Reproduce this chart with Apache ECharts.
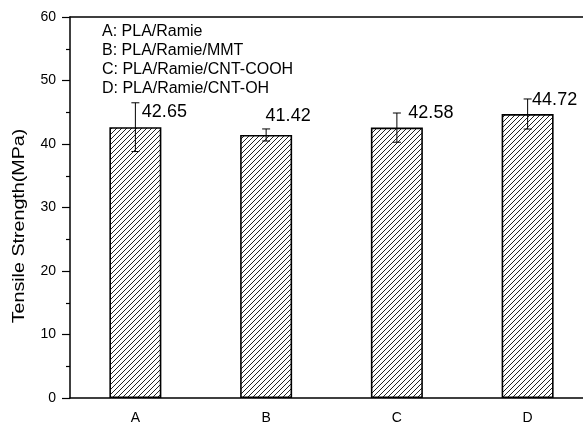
<!DOCTYPE html>
<html>
<head>
<meta charset="utf-8">
<script src="https://cdn.jsdelivr.net/npm/echarts@6/dist/echarts.min.js"></script>
<style>
  html, body { margin: 0; padding: 0; background: #fff; }
  #chart { width: 583px; height: 422px; }
</style>
</head>
<body>
<div id="chart"></div>
<script>
// Samples and their tensile strength (mean and standard deviation, MPa)
const categories = ['A', 'B', 'C', 'D'];
const strength = [42.65, 41.42, 42.58, 44.72];
const strengthError = [3.84, 0.95, 2.3, 2.37];
const sampleNames = [
  'A: PLA/Ramie',
  'B: PLA/Ramie/MMT',
  'C: PLA/Ramie/CNT-COOH',
  'D: PLA/Ramie/CNT-OH'
];
const yTitle = 'Tensile Strength(MPa)';
const yMin = 0, yMax = 60, yStep = 10;

const FONT = '"Liberation Sans", Arial, Helvetica, sans-serif';

// Value label nudges [dx, dy] so each number sits beside its error bar
const labelNudge = [[29, -1], [22, -5], [34, -1], [27, 0]];

// Diagonal hatch tile used as the bar fill
function hatchTile() {
  const c = document.createElement('canvas');
  c.width = 5; c.height = 5;
  const g = c.getContext('2d');
  g.fillStyle = '#fff';
  g.fillRect(0, 0, 5, 5);
  g.strokeStyle = '#222';
  g.lineWidth = 1;
  g.beginPath();
  g.moveTo(-1, 6); g.lineTo(6, -1);
  g.moveTo(-1, 1); g.lineTo(1, -1);
  g.moveTo(4, 6); g.lineTo(6, 4);
  g.stroke();
  return c;
}
const hatch = { image: hatchTile(), repeat: 'repeat' };

const chart = echarts.init(document.getElementById('chart'), null, { renderer: 'canvas' });

const black = '#000';
const tickStyle = { color: black, width: 1.2 };

const option = {
  animation: false,
  backgroundColor: '#fff',
  grid: { left: 70, top: 17, width: 523, height: 381, outerBoundsMode: 'none' },
  xAxis: [
    {
      type: 'category', data: categories, position: 'bottom',
      axisLine: { lineStyle: { color: black, width: 1.5 } },
      axisTick: { alignWithLabel: true, length: 7, lineStyle: tickStyle },
      axisLabel: { color: black, fontSize: 14, fontFamily: FONT, margin: 13 },
      splitLine: { show: false }
    },
    {
      type: 'category', data: categories, position: 'bottom',
      axisLine: { show: false },
      axisTick: { length: 4, lineStyle: tickStyle },
      axisLabel: { show: false },
      splitLine: { show: false }
    },
    {
      type: 'category', data: categories, position: 'top',
      axisLine: { lineStyle: { color: black, width: 1.5 } },
      axisTick: { inside: true, length: 3, lineStyle: tickStyle },
      axisLabel: { show: false },
      splitLine: { show: false }
    },
    {
      type: 'category', data: categories, position: 'top',
      axisLine: { show: false },
      axisTick: { inside: true, alignWithLabel: true, length: 3, lineStyle: tickStyle },
      axisLabel: { show: false },
      splitLine: { show: false }
    }
  ],
  yAxis: {
    type: 'value', min: yMin, max: yMax, interval: yStep,
    axisLine: { show: true, lineStyle: { color: black, width: 1.5 } },
    axisTick: { show: true, length: 8, lineStyle: tickStyle },
    minorTick: { show: true, splitNumber: 2, length: 4, lineStyle: tickStyle },
    axisLabel: { color: black, fontSize: 14, fontFamily: FONT, margin: 14 },
    splitLine: { show: false },
    minorSplitLine: { show: false }
  },
  series: [
    {
      type: 'bar',
      xAxisIndex: 0,
      barWidth: 52,
      data: strength.map((v, i) => ({
        value: v,
        label: { offset: labelNudge[i] }
      })),
      itemStyle: { color: hatch, borderColor: black, borderWidth: 1.6 },
      label: {
        show: true, position: 'top', distance: 5,
        color: black, fontSize: 18, fontFamily: FONT,
        formatter: p => strength[p.dataIndex].toFixed(2)
      },
      emphasis: { disabled: true },
      z: 2
    },
    {
      type: 'custom',
      xAxisIndex: 0,
      data: categories.map((c, i) => [i, strength[i], strengthError[i]]),
      renderItem: (params, api) => {
        const i = api.value(0), v = api.value(1), e = api.value(2);
        const top = api.coord([i, v + e]);
        const bot = api.coord([i, v - e]);
        const cap = 4;
        const style = { stroke: black, lineWidth: 1 };
        return {
          type: 'group',
          children: [
            { type: 'line', shape: { x1: top[0], y1: top[1], x2: bot[0], y2: bot[1] }, style },
            { type: 'line', shape: { x1: top[0] - cap, y1: top[1], x2: top[0] + cap, y2: top[1] }, style },
            { type: 'line', shape: { x1: bot[0] - cap, y1: bot[1], x2: bot[0] + cap, y2: bot[1] }, style }
          ]
        };
      },
      z: 3
    }
  ],
  graphic: [
    {
      type: 'text', left: 102, top: 22,
      style: {
        text: sampleNames.join('\n'),
        font: '16px ' + FONT,
        lineHeight: 19,
        fill: black
      }
    },
    {
      // vertical y-axis title, stretched along its reading direction
      type: 'text', x: 20, y: 226,
      rotation: Math.PI / 2,
      scaleX: 1.23,
      style: {
        text: yTitle,
        font: '16px ' + FONT,
        align: 'center',
        verticalAlign: 'middle',
        fill: black
      }
    }
  ]
};

chart.setOption(option);
</script>
</body>
</html>
